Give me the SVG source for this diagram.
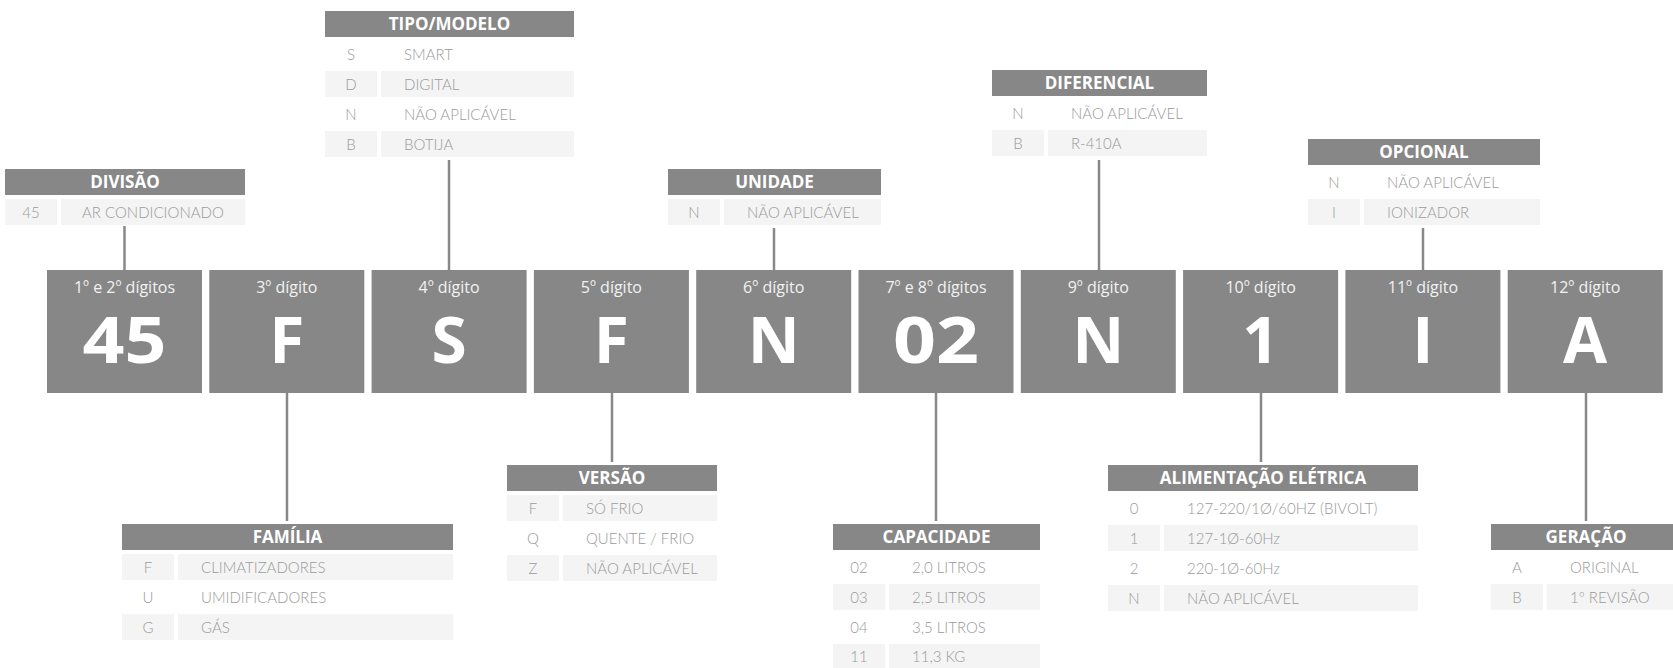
<svg xmlns="http://www.w3.org/2000/svg" width="1673" height="668" viewBox="0 0 1673 668">
<style>
.box{fill:#878787}
.hdr{fill:#878787}
.sh{fill:#f4f4f4}
.ht{font-family:"Open Sans","Noto Sans",sans-serif;font-weight:700;font-size:17px;fill:#fff;text-anchor:middle}
.cd{font-family:Lato,"Liberation Sans",sans-serif;font-weight:300;font-size:15px;fill:#9a9a9a;text-anchor:middle}
.ds{font-family:Lato,"Liberation Sans",sans-serif;font-weight:300;font-size:15px;fill:#9a9a9a}
.dl{font-family:"Open Sans","Noto Sans",sans-serif;font-size:16px;fill:#f2f2f2;text-anchor:middle}
.dv{font-family:"Open Sans","Noto Sans",sans-serif;font-weight:700;font-size:64px;fill:#fff;text-anchor:middle}
.ln{stroke:#888;stroke-width:2.5;fill:none}
</style>
<rect width="1673" height="668" fill="#fff"/>
<g id="connectors">
<line class="ln" x1="124.5" y1="226" x2="124.5" y2="270"/>
<line class="ln" x1="449" y1="160" x2="449" y2="270"/>
<line class="ln" x1="774" y1="228" x2="774" y2="270"/>
<line class="ln" x1="1099" y1="160" x2="1099" y2="270"/>
<line class="ln" x1="1423" y1="228" x2="1423" y2="270"/>
<line class="ln" x1="287" y1="393" x2="287" y2="521"/>
<line class="ln" x1="612" y1="393" x2="612" y2="462"/>
<line class="ln" x1="936" y1="393" x2="936" y2="521"/>
<line class="ln" x1="1261" y1="393" x2="1261" y2="462"/>
<line class="ln" x1="1586" y1="393" x2="1586" y2="521"/>
</g>
<g id="d1"><rect class="box" x="47" y="270" width="155" height="123"/><text class="dl" x="124.5" y="292.5">1º e 2º dígitos</text><text class="dv" x="124.5" y="363" textLength="84" lengthAdjust="spacingAndGlyphs">45</text></g>
<g id="d3"><rect class="box" x="209.3" y="270" width="155" height="123"/><text class="dl" x="286.8" y="292.5">3º dígito</text><text class="dv" x="286.8" y="363">F</text></g>
<g id="d4"><rect class="box" x="371.6" y="270" width="155" height="123"/><text class="dl" x="449.1" y="292.5">4º dígito</text><text class="dv" x="449.1" y="363">S</text></g>
<g id="d5"><rect class="box" x="533.9" y="270" width="155" height="123"/><text class="dl" x="611.4" y="292.5">5º dígito</text><text class="dv" x="611.4" y="363">F</text></g>
<g id="d6"><rect class="box" x="696.2" y="270" width="155" height="123"/><text class="dl" x="773.7" y="292.5">6º dígito</text><text class="dv" x="773.7" y="363">N</text></g>
<g id="d7"><rect class="box" x="858.5" y="270" width="155" height="123"/><text class="dl" x="936" y="292.5">7º e 8º dígitos</text><text class="dv" x="936" y="363" textLength="86" lengthAdjust="spacingAndGlyphs">02</text></g>
<g id="d9"><rect class="box" x="1020.8" y="270" width="155" height="123"/><text class="dl" x="1098.3" y="292.5">9º dígito</text><text class="dv" x="1098.3" y="363">N</text></g>
<g id="d10"><rect class="box" x="1183.1" y="270" width="155" height="123"/><text class="dl" x="1260.6" y="292.5">10º dígito</text><text class="dv" x="1260.6" y="363">1</text></g>
<g id="d11"><rect class="box" x="1345.4" y="270" width="155" height="123"/><text class="dl" x="1422.9" y="292.5">11º dígito</text><text class="dv" x="1422.9" y="363">I</text></g>
<g id="d12"><rect class="box" x="1507.7" y="270" width="155" height="123"/><text class="dl" x="1585.2" y="292.5">12º dígito</text><text class="dv" x="1585.2" y="363">A</text></g>

<g id="divisao">
<rect class="hdr" x="5" y="169" width="240" height="26"/><text class="ht" x="125" y="188">DIVISÃO</text>
<rect class="sh" x="5" y="199" width="52" height="26"/><rect class="sh" x="61" y="199" width="184" height="26"/>
<text class="cd" x="31" y="217.5">45</text><text class="ds" x="82" y="217.5">AR CONDICIONADO</text>
</g>
<g id="tipo">
<rect class="hdr" x="325" y="11" width="249" height="26"/><text class="ht" x="449.5" y="30">TIPO/MODELO</text>
<rect class="sh" x="325" y="71" width="52" height="26"/><rect class="sh" x="381" y="71" width="193" height="26"/>
<rect class="sh" x="325" y="131" width="52" height="26"/><rect class="sh" x="381" y="131" width="193" height="26"/>
<text class="cd" x="351" y="59.5">S</text><text class="ds" x="404" y="59.5">SMART</text>
<text class="cd" x="351" y="89.5">D</text><text class="ds" x="404" y="89.5">DIGITAL</text>
<text class="cd" x="351" y="119.5">N</text><text class="ds" x="404" y="119.5">NÃO APLICÁVEL</text>
<text class="cd" x="351" y="149.5">B</text><text class="ds" x="404" y="149.5">BOTIJA</text>
</g>
<g id="unidade">
<rect class="hdr" x="668" y="169" width="213" height="26"/><text class="ht" x="774.5" y="188">UNIDADE</text>
<rect class="sh" x="668" y="199" width="52" height="26"/><rect class="sh" x="724" y="199" width="157" height="26"/>
<text class="cd" x="694" y="217.5">N</text><text class="ds" x="747" y="217.5">NÃO APLICÁVEL</text>
</g>
<g id="diferencial">
<rect class="hdr" x="992" y="70" width="215" height="26"/><text class="ht" x="1099.5" y="89">DIFERENCIAL</text>
<rect class="sh" x="992" y="130" width="52" height="26"/><rect class="sh" x="1048" y="130" width="159" height="26"/>
<text class="cd" x="1018" y="118.5">N</text><text class="ds" x="1071" y="118.5">NÃO APLICÁVEL</text>
<text class="cd" x="1018" y="148.5">B</text><text class="ds" x="1071" y="148.5">R-410A</text>
</g>
<g id="opcional">
<rect class="hdr" x="1308" y="139" width="232" height="26"/><text class="ht" x="1424" y="158">OPCIONAL</text>
<rect class="sh" x="1308" y="199" width="52" height="26"/><rect class="sh" x="1364" y="199" width="176" height="26"/>
<text class="cd" x="1334" y="187.5">N</text><text class="ds" x="1387" y="187.5">NÃO APLICÁVEL</text>
<text class="cd" x="1334" y="217.5">I</text><text class="ds" x="1387" y="217.5">IONIZADOR</text>
</g>
<g id="familia">
<rect class="hdr" x="122" y="524" width="331" height="26"/><text class="ht" x="287.5" y="543">FAMÍLIA</text>
<rect class="sh" x="122" y="554" width="52" height="26"/><rect class="sh" x="178" y="554" width="275" height="26"/>
<rect class="sh" x="122" y="614" width="52" height="26"/><rect class="sh" x="178" y="614" width="275" height="26"/>
<text class="cd" x="148" y="572.5">F</text><text class="ds" x="201" y="572.5">CLIMATIZADORES</text>
<text class="cd" x="148" y="602.5">U</text><text class="ds" x="201" y="602.5">UMIDIFICADORES</text>
<text class="cd" x="148" y="632.5">G</text><text class="ds" x="201" y="632.5">GÁS</text>
</g>
<g id="versao">
<rect class="hdr" x="507" y="465" width="210" height="26"/><text class="ht" x="612" y="484">VERSÃO</text>
<rect class="sh" x="507" y="495" width="52" height="26"/><rect class="sh" x="563" y="495" width="154" height="26"/>
<rect class="sh" x="507" y="555" width="52" height="26"/><rect class="sh" x="563" y="555" width="154" height="26"/>
<text class="cd" x="533" y="513.5">F</text><text class="ds" x="586" y="513.5">SÓ FRIO</text>
<text class="cd" x="533" y="543.5">Q</text><text class="ds" x="586" y="543.5">QUENTE / FRIO</text>
<text class="cd" x="533" y="573.5">Z</text><text class="ds" x="586" y="573.5">NÃO APLICÁVEL</text>
</g>
<g id="capacidade">
<rect class="hdr" x="833" y="524" width="207" height="26"/><text class="ht" x="936.5" y="543">CAPACIDADE</text>
<rect class="sh" x="833" y="584" width="52" height="26"/><rect class="sh" x="889" y="584" width="151" height="26"/>
<rect class="sh" x="833" y="644" width="52" height="26"/><rect class="sh" x="889" y="644" width="151" height="26"/>
<text class="cd" x="859" y="572.5">02</text><text class="ds" x="912" y="572.5">2,0 LITROS</text>
<text class="cd" x="859" y="602.5">03</text><text class="ds" x="912" y="602.5">2,5 LITROS</text>
<text class="cd" x="859" y="632.5">04</text><text class="ds" x="912" y="632.5">3,5 LITROS</text>
<text class="cd" x="859" y="662">11</text><text class="ds" x="912" y="662">11,3 KG</text>
</g>
<g id="alimentacao">
<rect class="hdr" x="1108" y="465" width="310" height="26"/><text class="ht" x="1263" y="484">ALIMENTAÇÃO ELÉTRICA</text>
<rect class="sh" x="1108" y="525" width="52" height="26"/><rect class="sh" x="1164" y="525" width="254" height="26"/>
<rect class="sh" x="1108" y="585" width="52" height="26"/><rect class="sh" x="1164" y="585" width="254" height="26"/>
<text class="cd" x="1134" y="513.5">0</text><text class="ds" x="1187" y="513.5">127-220/1Ø/60HZ (BIVOLT)</text>
<text class="cd" x="1134" y="543.5">1</text><text class="ds" x="1187" y="543.5">127-1Ø-60Hz</text>
<text class="cd" x="1134" y="573.5">2</text><text class="ds" x="1187" y="573.5">220-1Ø-60Hz</text>
<text class="cd" x="1134" y="603.5">N</text><text class="ds" x="1187" y="603.5">NÃO APLICÁVEL</text>
</g>
<g id="geracao">
<rect class="hdr" x="1491" y="524" width="190" height="26"/><text class="ht" x="1586" y="543">GERAÇÃO</text>
<rect class="sh" x="1491" y="584" width="52" height="26"/><rect class="sh" x="1547" y="584" width="134" height="26"/>
<text class="cd" x="1517" y="572.5">A</text><text class="ds" x="1570" y="572.5">ORIGINAL</text>
<text class="cd" x="1517" y="602.5">B</text><text class="ds" x="1570" y="602.5">1º REVISÃO</text>
</g>
</svg>
